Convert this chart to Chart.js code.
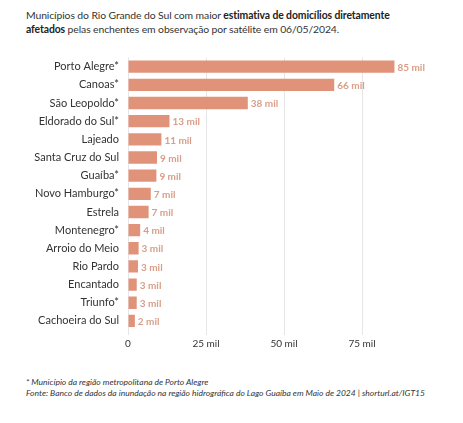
<!DOCTYPE html>
<html>
<head>
<meta charset="utf-8">
<script src="https://cdn.jsdelivr.net/npm/chart.js@4"></script>
<style>
  body { margin: 0; background: #fff; font-family: Lato, "Noto Sans", sans-serif; color: #333; }
  #pagina { position: relative; width: 463px; height: 423px; overflow: hidden; }
  #titulo { position: absolute; left: 26px; top: 9px; width: 430px; font-size: 10.4px; letter-spacing: -0.1px; line-height: 13.6px; color: #333; }
  #titulo b { font-weight: 700; color: #222; }
  #grafico { position: absolute; left: 0; top: 42px; width: 463px; height: 311px; }
  #nota { position: absolute; left: 26px; top: 377px; font-size: 8.5px; line-height: 10.7px; font-style: italic; color: #333; }
</style>
</head>
<body>
<div id="pagina">
  <div id="titulo">Municípios do Rio Grande do Sul com maior <b>estimativa de domicílios diretamente</b><br><b>afetados</b> pelas enchentes em observação por satélite em 06/05/2024.</div>
  <div id="grafico"><canvas id="lienzo"></canvas></div>
  <div id="nota">* Município da região metropolitana de Porto Alegre<br>Fonte: Banco de dados da inundação na região hidrográfica do Lago Guaíba em Maio de 2024 | shorturl.at/IGT15</div>
</div>
<script>
// Municípios e domicílios afetados (mil)
const municipios = [
    "Porto Alegre*", "Canoas*", "São Leopoldo*", "Eldorado do Sul*", "Lajeado",
    "Santa Cruz do Sul", "Guaíba*", "Novo Hamburgo*", "Estrela", "Montenegro*",
    "Arroio do Meio", "Rio Pardo", "Encantado", "Triunfo*", "Cachoeira do Sul"
];
const domicilios = [85.4, 66.1, 38.4, 13.3, 10.7, 9.3, 9.1, 7.3, 6.6, 3.9, 3.4, 3.2, 2.8, 2.8, 2.2];
const marcasEixo = [0, 25, 50, 75];

const corBarra = "#e1937a";
const corRotulo = "#d99e89";

// Rótulos "xx mil" no fim de cada barra
const rotulosValor = {
    id: "rotulosValor",
    afterDatasetsDraw(chart) {
        const ctx = chart.ctx;
        const meta = chart.getDatasetMeta(0);
        ctx.save();
        ctx.font = "bold 10px Lato, 'Noto Sans', sans-serif";
        ctx.fillStyle = corRotulo;
        ctx.textBaseline = "middle";
        meta.data.forEach((barra, i) => {
            ctx.fillText(Math.round(domicilios[i]) + " mil", barra.x + 3, barra.y + 1);
        });
        ctx.restore();
    }
};

new Chart(document.getElementById("lienzo"), {
    type: "bar",
    data: {
        labels: municipios,
        datasets: [{
            data: domicilios,
            backgroundColor: corBarra,
            borderWidth: 0,
            barPercentage: 0.68,
            categoryPercentage: 1
        }]
    },
    options: {
        indexAxis: "y",
        responsive: true,
        maintainAspectRatio: false,
        animation: false,
        layout: { padding: { top: 5, right: 23, bottom: 0, left: 0 } },
        plugins: {
            legend: { display: false },
            tooltip: { enabled: false }
        },
        scales: {
            x: {
                min: 0,
                max: 100,
                afterBuildTicks: (eixo) => { eixo.ticks = marcasEixo.map(v => ({ value: v })); },
                grid: { color: "#e6e6e6", drawTicks: true, tickLength: 5, lineWidth: 1 },
                border: { display: false },
                ticks: {
                    padding: 3,
                    color: "#333",
                    font: { family: "Lato, 'Noto Sans', sans-serif", size: 10 },
                    callback: (v) => v === 0 ? "0" : v + " mil"
                }
            },
            y: {
                afterFit: (eixo) => { eixo.width = 128; },
                grid: { display: false, drawTicks: false },
                border: { display: false },
                ticks: {
                    padding: 9,
                    color: "#333",
                    font: { family: "Lato, 'Noto Sans', sans-serif", size: 11 }
                }
            }
        }
    },
    plugins: [rotulosValor]
});
</script>
</body>
</html>
